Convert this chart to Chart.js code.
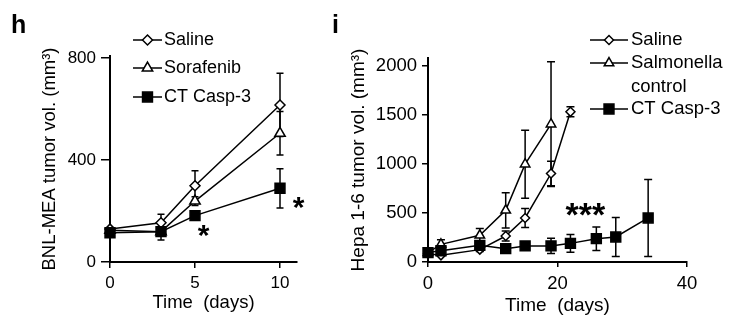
<!DOCTYPE html>
<html>
<head>
<meta charset="utf-8">
<script src="https://cdn.jsdelivr.net/npm/chart.js@4.4.1/dist/chart.umd.min.js"></script>
<style>
  body { margin: 0; background: #fff; }
  #wrap { position: relative; width: 733px; height: 328px; overflow: hidden; }
  canvas { position: absolute; top: 0; }
  .panel { position: absolute; z-index: 2; font: bold 25px "Liberation Sans", Arial, sans-serif; line-height: 1; color: #000; }
</style>
</head>
<body>
<div id="wrap">
  <canvas id="chartH" width="320" height="328" style="left:0"></canvas>
  <canvas id="chartI" width="393" height="328" style="left:340px"></canvas>
  <div class="panel" style="left:11px;top:12px">h</div>
  <div class="panel" style="left:332px;top:12px">i</div>
</div>
<script>
const FONT = '"Liberation Sans", Arial, sans-serif';

// Panel h: BNL-MEA tumour volume (mm3), mean and error per day
const daysH = [0, 3, 5, 10];
const salineH = [129, 154, 299, 616];
const salineHErr = [0, 33, 59, 124];
const sorafenibH = [125, 119, 239, 505];
const sorafenibHErr = [0, 10, 17, 85];
const casp3H = [115, 119, 182, 289];
const casp3HErr = [8, 33, 10, 77];
const ticksHX = [0, 5, 10];
const ticksHY = [0, 400, 800];

// Panel i: Hepa 1-6 tumour volume (mm3)
const salineIDays = [0, 2, 8, 12, 15, 19, 22];
const salineI = [85, 68, 126, 265, 449, 902, 1531];
const salineIErr = [10, 10, 20, 51, 96, 125, 51];
const salmonellaDays = [0, 2, 8, 12, 15, 19];
const salmonellaI = [95, 180, 272, 527, 997, 1405];
const salmonellaIErr = [10, 48, 69, 180, 347, 636];
const casp3IDays = [0, 2, 8, 12, 15, 19, 22, 26, 29, 34];
const casp3I = [96, 115, 170, 136, 164, 164, 190, 238, 255, 449];
const casp3IErr = [10, 15, 30, 20, 35, 78, 90, 120, 198, 392];
const ticksIX = [0, 20, 40];
const ticksIY = [0, 500, 1000, 1500, 2000];

// significance stars, placed in data units
const starsH = [{ text: '*', x: 5.5, y: 98 }, { text: '*', x: 11.1, y: 208 }];
const starsI = [{ text: '***', x: 24.3, y: 466 }];

function toPoints(days, values) {
  return days.map((d, i) => ({ x: d, y: values[i] }));
}

const diamond = { pointStyle: 'rectRot', backgroundColor: '#fff' };
const triangle = { pointStyle: 'triangle', backgroundColor: '#fff' };
const square = { pointStyle: 'rect', backgroundColor: '#000' };

function series(label, days, values, errors, marker, radius) {
  return {
    label: label,
    data: toPoints(days, values),
    errors: errors,
    borderColor: '#000',
    borderWidth: 1.5,
    pointStyle: marker.pointStyle,
    pointBackgroundColor: marker.backgroundColor,
    pointBorderColor: '#000',
    pointBorderWidth: 1.5,
    pointRadius: radius,
    tension: 0,
    clip: false,
  };
}

// vertical error bars with caps, drawn under the markers
const errorBars = {
  id: 'errorBars',
  beforeDatasetsDraw(chart, args, opts) {
    const { ctx, scales: { x, y } } = chart;
    ctx.save();
    ctx.strokeStyle = '#000';
    ctx.lineWidth = opts.width;
    chart.data.datasets.forEach((ds) => {
      ds.data.forEach((p, i) => {
        const e = ds.errors[i];
        if (!e) return;
        const px = x.getPixelForValue(p.x);
        const top = y.getPixelForValue(p.y + e);
        const bot = y.getPixelForValue(Math.max(p.y - e, 0));
        ctx.beginPath();
        ctx.moveTo(px, top); ctx.lineTo(px, bot);
        ctx.moveTo(px - opts.cap, top); ctx.lineTo(px + opts.cap, top);
        ctx.moveTo(px - opts.cap, bot); ctx.lineTo(px + opts.cap, bot);
        ctx.stroke();
      });
    });
    ctx.restore();
  },
};

// legend rows: short line with the marker, then the label
const keyLegend = {
  id: 'keyLegend',
  afterDraw(chart, args, opts) {
    const { ctx } = chart;
    ctx.save();
    ctx.font = opts.size + 'px ' + FONT;
    ctx.textBaseline = 'middle';
    opts.rows.forEach((row) => {
      const ds = chart.data.datasets[row.dataset];
      ctx.strokeStyle = '#000';
      ctx.lineWidth = 1.5;
      ctx.beginPath();
      ctx.moveTo(opts.x0, row.y);
      ctx.lineTo(opts.x1, row.y);
      ctx.stroke();
      ctx.fillStyle = ds.pointBackgroundColor;
      Chart.helpers.drawPoint(ctx, {
        pointStyle: ds.pointStyle, radius: ds.pointRadius, rotation: 0, borderWidth: 1.5,
      }, (opts.x0 + opts.x1) / 2, row.y);
      ctx.fillStyle = '#000';
      const lines = [].concat(ds.label);
      lines.forEach((t, k) => ctx.fillText(t, opts.textX, row.y + k * opts.lineGap));
    });
    ctx.restore();
  },
};

const stars = {
  id: 'stars',
  afterDraw(chart, args, opts) {
    const { ctx, scales: { x, y } } = chart;
    ctx.save();
    ctx.font = 'bold ' + opts.size + 'px ' + FONT;
    ctx.textAlign = 'center';
    ctx.textBaseline = 'middle';
    ctx.fillStyle = '#000';
    opts.marks.forEach((m) => ctx.fillText(m.text, x.getPixelForValue(m.x), y.getPixelForValue(m.y)));
    ctx.restore();
  },
};

function axes(c) {
  const keep = (list) => (s) => { s.ticks = list.map((v) => ({ value: v })); };
  const plain = (v) => String(v);
  return {
    x: {
      type: 'linear', min: 0, max: c.xMax,
      afterBuildTicks: keep(c.xTicks),
      afterFit: (s) => { s.height = c.xHeight; },
      ticks: { color: '#000', padding: c.xPad, callback: plain, font: { family: FONT, size: c.tickSize } },
      grid: { drawOnChartArea: false, color: '#000', lineWidth: 1.5, tickLength: c.xTick },
      border: { color: '#000', width: 2 },
      title: { display: true, text: 'Time  (days)', color: '#000', padding: 0, font: { family: FONT, size: c.titleSize } },
    },
    y: {
      type: 'linear', min: 0, max: c.yMax,
      afterBuildTicks: keep(c.yTicks),
      afterFit: (s) => { s.width = c.yWidth; },
      ticks: { color: '#000', padding: c.yPad, callback: plain, font: { family: FONT, size: c.tickSize } },
      grid: { drawOnChartArea: false, color: '#000', lineWidth: 1.5, tickLength: c.yTick },
      border: { color: '#000', width: 2 },
      title: { display: true, text: c.yTitle, color: '#000', padding: 0, font: { family: FONT, size: c.titleSize } },
    },
  };
}

new Chart(document.getElementById('chartH'), {
  type: 'line',
  data: {
    datasets: [
      series('CT Casp-3', daysH, casp3H, casp3HErr, square, 7),
      series('Saline', daysH, salineH, salineHErr, diamond, 5),
      series('Sorafenib', daysH, sorafenibH, sorafenibHErr, triangle, 6),
    ],
  },
  options: {
    responsive: false,
    animation: false,
    layout: { padding: { left: 39, top: 56, right: 23, bottom: 14 } },
    scales: axes({
      xMax: 11, xTicks: ticksHX, xHeight: 52, xPad: 5, xTick: 6,
      yMax: 808, yTicks: ticksHY, yWidth: 71, yPad: 5, yTick: 9,
      tickSize: 17, titleSize: 18.5, yTitle: 'BNL-MEA tumor vol. (mm³)',
    }),
    plugins: {
      legend: { display: false },
      tooltip: { enabled: false },
      errorBars: { width: 1.5, cap: 3.5 },
      keyLegend: {
        size: 18, x0: 133, x1: 162, textX: 164, lineGap: 24,
        rows: [{ dataset: 1, y: 40 }, { dataset: 2, y: 68 }, { dataset: 0, y: 97 }],
      },
      stars: { size: 30, marks: starsH },
    },
  },
  plugins: [errorBars, keyLegend, stars],
});

new Chart(document.getElementById('chartI'), {
  type: 'line',
  data: {
    datasets: [
      series('CT Casp-3', casp3IDays, casp3I, casp3IErr, square, 7),
      series('Saline', salineIDays, salineI, salineIErr, diamond, 4.5),
      series(['Salmonella', 'control'], salmonellaDays, salmonellaI, salmonellaIErr, triangle, 5.5),
    ],
  },
  options: {
    responsive: false,
    animation: false,
    layout: { padding: { left: 7, top: 58, right: 46, bottom: 11 } },
    scales: axes({
      xMax: 40, xTicks: ticksIX, xHeight: 55, xPad: 6, xTick: 5,
      yMax: 2080, yTicks: ticksIY, yWidth: 81, yPad: 5, yTick: 6,
      tickSize: 18.5, titleSize: 19, yTitle: 'Hepa 1-6 tumor vol. (mm³)',
    }),
    plugins: {
      legend: { display: false },
      tooltip: { enabled: false },
      errorBars: { width: 1.5, cap: 4 },
      keyLegend: {
        size: 18.5, x0: 250, x1: 288, textX: 291, lineGap: 24,
        rows: [{ dataset: 1, y: 40 }, { dataset: 2, y: 63 }, { dataset: 0, y: 109 }],
      },
      stars: { size: 34, marks: starsI },
    },
  },
  plugins: [errorBars, keyLegend, stars],
});
</script>
</body>
</html>
